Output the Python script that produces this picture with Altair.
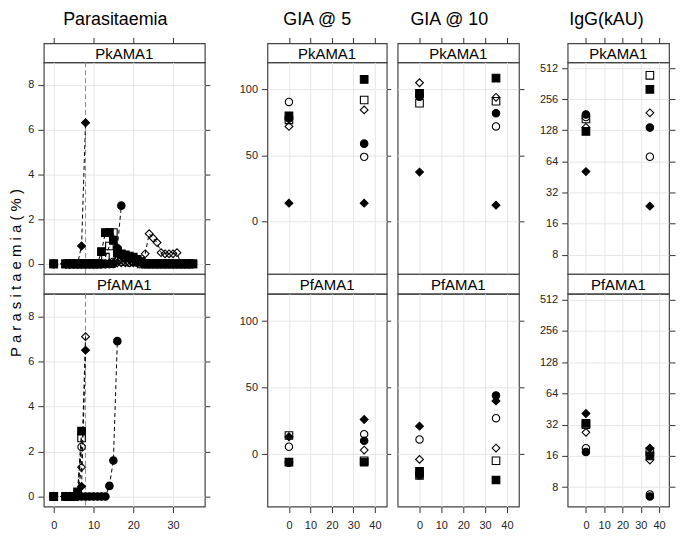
import altair as alt
import pandas as pd

FONT = "Liberation Sans"
GRID = "#e6e6e6"
INK = "#222222"

# ---------------- categories / symbols ----------------
subjects = ["open circle", "filled circle", "open square", "filled square", "open diamond", "filled diamond"]
shape_range = ["circle", "circle", "square", "square", "diamond", "diamond"]
fill_range = ["transparent", "black", "transparent", "black", "transparent", "black"]
size_range = [55, 62, 55, 60, 110, 45]

antigens = ["PkAMA1", "PfAMA1"]
column_titles = ["Parasitaemia", "GIA @ 5", "GIA @ 10", "IgG(kAU)"]
y_title = "P a r a s i t a e m i a  ( % )"

# ---------------- parasitaemia (%) by day ----------------
days_to_7 = [0, 3, 4, 5, 6, 7]
days_to_8 = [0, 3, 4, 5, 6, 7, 8]
days_to_16 = [0, 3, 4, 5, 6, 7, 8, 9, 10, 11, 12, 13, 14, 15, 16]
days_to_17 = [0, 3, 4, 5, 6, 7, 8, 9, 10, 11, 12, 13, 14, 15, 16, 17]
days_full = [0, 3, 4, 5, 6, 7, 8, 9, 10, 11, 12, 13, 14, 15, 16, 17, 18, 19,
             20, 21, 22, 23, 24, 25, 26, 27, 28, 29, 30, 31, 32, 33, 34, 35]

pk_open_circle = [0, 0, 0, 0, 0, 0, 0, 0, 0, 0, 0, 0, 0,
                  0.1, 0.15, 0.1, 0.1, 0.05, 0.1, 0.05, 0.05,
                  0, 0, 0, 0, 0, 0, 0, 0, 0, 0, 0, 0, 0]
pk_filled_circle = [0, 0, 0, 0, 0, 0, 0, 0, 0, 0, 0, 0, 0, 0, 0.7, 2.6]
pk_open_square = [0, 0, 0, 0, 0, 0, 0, 0, 0, 0, 0,
                  0.3, 0.8, 1.4, 0.6, 0.4, 0.3, 0.25, 0.15, 0.1,
                  0, 0, 0, 0, 0, 0, 0, 0, 0, 0, 0, 0, 0, 0]
pk_filled_square = [0, 0, 0, 0, 0, 0, 0, 0, 0, 0,
                    0.55, 1.4, 1.4, 1.05, 0.5, 0.45, 0.4, 0.35, 0.3, 0.2, 0.1,
                    0, 0, 0, 0, 0, 0, 0, 0, 0, 0, 0, 0, 0]
pk_open_diamond = [0, 0, 0, 0, 0, 0, 0, 0, 0, 0, 0, 0,
                   0.05, 0.05, 0.05, 0.05, 0.05, 0.05, 0.05, 0.05, 0.05,
                   0.45, 1.35, 1.15, 0.95, 0.5, 0.45, 0.45, 0.45, 0.5,
                   0, 0, 0, 0]
pk_filled_diamond = [0, 0, 0, 0, 0, 0.8, 6.3]

pf_open_circle = [0, 0, 0, 0, 0.1, 2.2]
pf_filled_circle = [0, 0, 0, 0, 0, 0, 0, 0, 0, 0, 0, 0, 0.47, 1.6, 6.9]
pf_open_square = [0, 0, 0, 0, 0.05, 2.6]
pf_filled_square = [0, 0, 0, 0, 0.2, 2.9]
pf_open_diamond = [0, 0, 0, 0, 0, 1.3, 7.1]
pf_filled_diamond = [0, 0, 0, 0, 0, 0.45, 6.5]

treatment_day = [8]

para_series = {
    "PkAMA1": [(days_full, pk_open_circle), (days_to_17, pk_filled_circle),
               (days_full, pk_open_square), (days_full, pk_filled_square),
               (days_full, pk_open_diamond), (days_to_8, pk_filled_diamond)],
    "PfAMA1": [(days_to_7, pf_open_circle), (days_to_16, pf_filled_circle),
               (days_to_7, pf_open_square), (days_to_7, pf_filled_square),
               (days_to_8, pf_open_diamond), (days_to_8, pf_filled_diamond)],
}

# ---------------- assays at day 0 and day 35 (order = subjects) ----------------
assay_days = [0, 35]
gia5_pk_d0 = [90.5, 78, 77, 80, 72, 14]
gia5_pk_d35 = [49, 59, 92, 107.5, 84.5, 14]
gia5_pf_d0 = [5.5, -6.5, 14, -6, -6, 13]
gia5_pf_d35 = [15, 10, -5, -6, 3, 26]

gia10_pk_d0 = [96, 94.5, 89.5, 97, 105, 37.5]
gia10_pk_d35 = [72, 82, 91, 108.5, 94, 12.5]
gia10_pf_d0 = [11, -16, -16, -13, -4, 21]
gia10_pf_d35 = [27, 44, -5, -19.5, 4.5, 40]

igg_pk_d0 = [172, 182, 165, 125, 137, 51]
igg_pk_d35 = [71, 136, 436, 319, 189, 23.6]
igg_pf_d0 = [19, 17.5, 32, 33, 27, 41]
igg_pf_d35 = [6.8, 6.5, 17.6, 16, 14.6, 19]


def para_df(antigen):
    rows = []
    for subj, (days, vals) in zip(subjects, para_series[antigen]):
        for d, v in zip(days, vals):
            rows.append({"subject": subj, "day": d, "value": v})
    return pd.DataFrame(rows)


def assay_df(d0, d35):
    rows = []
    for subj, a, b in zip(subjects, d0, d35):
        rows.append({"subject": subj, "day": assay_days[0], "value": a})
        rows.append({"subject": subj, "day": assay_days[1], "value": b})
    return pd.DataFrame(rows)


# ---------------- layout constants ----------------
W = [162, 120, 122, 102]
GAPS = [63, 11, 49]
H_STRIP1, H_PLOT1, H_STRIP2, H_PLOT2 = 19, 213, 20, 214

PARA_X = [-2.5, 38]
PARA_XT = [0, 10, 20, 30]
PARA_Y = [-0.45, 9.0]
PARA_YT = [0, 2, 4, 6, 8]
ASSAY_X = [-10, 45.5]
ASSAY_XT = [0, 10, 20, 30, 40]
GIA_Y = [-39.5, 120.5]
GIA_YT = [0, 50, 100]
IGG_Y = [5.2, 584]
IGG_YT = [8, 16, 32, 64, 128, 256, 512]


def make_panel(df, xdom, xvals, ydom, yvals, ylog, width, height, show_x,
               left_labels, left_ticks, right_tick, ytitle=None, lines=False, vline=False):
    xscale = alt.Scale(domain=xdom, nice=False, zero=False)
    if ylog:
        yscale = alt.Scale(type="log", base=2, domain=ydom, nice=False)
    else:
        yscale = alt.Scale(domain=ydom, nice=False, zero=False)
    xaxis = alt.Axis(values=xvals, title=None, grid=True, domain=False, ticks=show_x,
                     labels=show_x, tickSize=6, labelPadding=7)
    yleft = alt.Axis(values=yvals, grid=True, domain=False, ticks=left_ticks,
                     labels=left_labels, tickSize=6, labelPadding=4, format="d", title=None)
    yright = alt.Axis(orient="right", values=yvals, grid=False, domain=False, labels=False,
                      ticks=True, tickSize=right_tick, title=None)

    base = alt.Chart(df)
    x = alt.X("day:Q", scale=xscale, axis=xaxis)
    pts = base.mark_point(opacity=1, strokeWidth=1.1, stroke="black").encode(
        x=x,
        y=alt.Y("value:Q", scale=yscale, axis=yleft),
        shape=alt.Shape("subject:N", scale=alt.Scale(domain=subjects, range=shape_range), legend=None),
        fill=alt.Fill("subject:N", scale=alt.Scale(domain=subjects, range=fill_range), legend=None),
        size=alt.Size("subject:N", scale=alt.Scale(domain=subjects, range=size_range), legend=None),
    )
    right = base.mark_point(opacity=0).encode(
        x=x, y=alt.Y("value:Q", scale=yscale, axis=yright))
    layers = []
    if vline:
        layers.append(alt.Chart(pd.DataFrame({"day": treatment_day})).mark_rule(
            color="#8c8c8c", strokeDash=[5, 3], strokeWidth=1).encode(x=x))
    if lines:
        layers.append(base.mark_line(color="black", strokeDash=[4, 3], strokeWidth=1).encode(
            x=x, y=alt.Y("value:Q", scale=yscale, axis=None),
            detail="subject:N", order="day:Q"))
    layers += [pts, right]
    if ytitle:
        layers.append(alt.Chart(pd.DataFrame({"t": [ytitle]})).mark_text(
            font=FONT, fontSize=15, color="black", angle=270, align="center",
            baseline="middle").encode(text="t:N", x=alt.value(-28), y=alt.value(height - 1)))
    return alt.layer(*layers).resolve_axis(y="independent").properties(width=width, height=height)


def make_strip(label, width, height, xdom=None, xvals=None, title=None, dx=0):
    txt = alt.Chart(pd.DataFrame({"label": [label]})).mark_text(
        font=FONT, fontSize=15, color="black", baseline="middle").encode(
        text="label:N", x=alt.value(width / 2), y=alt.value(height / 2 + 1))
    props = dict(width=width, height=height)
    if title:
        props["title"] = alt.TitleParams(title, dx=dx, offset=8, anchor="middle",
                                         fontSize=18, font=FONT, fontWeight="normal")
    if xvals is not None:
        tk = alt.Chart(pd.DataFrame({"day": xvals})).mark_point(opacity=0).encode(
            x=alt.X("day:Q", scale=alt.Scale(domain=xdom, nice=False, zero=False),
                    axis=alt.Axis(orient="top", values=xvals, labels=False, grid=False,
                                  domain=False, tickSize=6, title=None)))
        return alt.layer(tk, txt).properties(**props)
    return txt.properties(**props)


def spacer(w, h):
    return alt.Chart(pd.DataFrame({"s": [0]})).mark_point(opacity=0).encode(
        x=alt.value(0), y=alt.value(0)).properties(
        width=w, height=h, view=alt.ViewBackground(stroke="transparent"))


title_dx = [-9, -10, -9, -12]
xdoms = [PARA_X, ASSAY_X, ASSAY_X, ASSAY_X]
xts = [PARA_XT, ASSAY_XT, ASSAY_XT, ASSAY_XT]

data = {
    0: [para_df("PkAMA1"), para_df("PfAMA1")],
    1: [assay_df(gia5_pk_d0, gia5_pk_d35), assay_df(gia5_pf_d0, gia5_pf_d35)],
    2: [assay_df(gia10_pk_d0, gia10_pk_d35), assay_df(gia10_pf_d0, gia10_pf_d35)],
    3: [assay_df(igg_pk_d0, igg_pk_d35), assay_df(igg_pf_d0, igg_pf_d35)],
}
ydoms = [PARA_Y, GIA_Y, GIA_Y, IGG_Y]
yts = [PARA_YT, GIA_YT, GIA_YT, IGG_YT]
ylogs = [False, False, False, True]
left_labels = [True, True, False, True]
left_ticks = [True, True, False, True]
right_ticks = [5, 4, 5, 6]

rows = [[], [], [], []]
for c in range(4):
    rows[0].append(make_strip(antigens[0], W[c], H_STRIP1, xdoms[c], xts[c],
                              title=column_titles[c], dx=title_dx[c]))
    rows[1].append(make_panel(data[c][0], xdoms[c], xts[c], ydoms[c], yts[c], ylogs[c],
                              W[c], H_PLOT1, False, left_labels[c], left_ticks[c], right_ticks[c],
                              ytitle=y_title if c == 0 else None, lines=(c == 0), vline=(c == 0)))
    rows[2].append(make_strip(antigens[1], W[c], H_STRIP2))
    rows[3].append(make_panel(data[c][1], xdoms[c], xts[c], ydoms[c], yts[c], ylogs[c],
                              W[c], H_PLOT2, True, left_labels[c], left_ticks[c], right_ticks[c],
                              lines=(c == 0), vline=(c == 0)))
    if c < 3:
        rows[0].append(spacer(GAPS[c], H_STRIP1))
        rows[1].append(spacer(GAPS[c], H_PLOT1))
        rows[2].append(spacer(GAPS[c], H_STRIP2))
        rows[3].append(spacer(GAPS[c], H_PLOT2))

items = rows[0] + rows[1] + rows[2] + rows[3]

chart = alt.concat(*items, columns=7, spacing=0, bounds="flush").properties(
    padding={"left": 0, "right": 0, "top": 0, "bottom": 0}
).configure_view(
    stroke="#444444", strokeWidth=1.2
).configure_axis(
    labelFont=FONT, labelFontSize=11, labelColor=INK, tickColor="#333333",
    tickWidth=1, gridColor=GRID, gridWidth=1
).configure_title(
    font=FONT, fontSize=18, fontWeight="normal", color="black"
)

chart.save("out.html", embed_options={"renderer": "svg", "actions": False})
